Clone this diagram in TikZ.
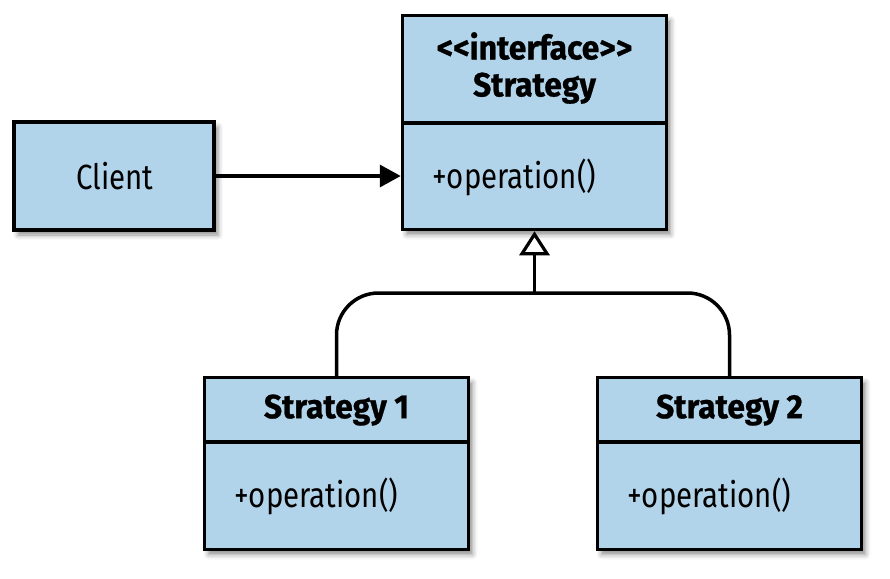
\documentclass[tikz,border=0pt]{standalone}
\usepackage{fontspec}
\setmainfont{Fira Sans}[FakeStretch=0.84,Ligatures=TeXOff,BoldFeatures={FakeStretch=0.95,FakeBold=0.8}]
\usetikzlibrary{arrows.meta,shadows.blur}
\definecolor{boxblue}{RGB}{178,212,234}
\tikzset{
  umlbox/.style={draw=black, line width=3.5pt, fill=boxblue, inner sep=0pt,
    blur shadow={shadow xshift=4pt, shadow yshift=-5pt, shadow blur radius=5pt, shadow opacity=45}},
  divline/.style={line width=3.5pt},
  optext/.style={anchor=west, inner sep=0pt, font=\fontsize{35}{40}\selectfont},
  titletext/.style={inner sep=0pt, align=center, font=\fontsize{33.5}{37}\selectfont\bfseries},
  conn/.style={line width=3.5pt},
}
\begin{document}
\begin{tikzpicture}[x=1pt,y=-1pt]
\useasboundingbox (0,0) rectangle (890,578);
% boxes
\node[umlbox, minimum width=200pt, minimum height=108pt] (client) at (114,176) {};
\node[umlbox, minimum width=264pt, minimum height=214pt] (strategy) at (534.5,122.5) {};
\node[umlbox, minimum width=264pt, minimum height=172pt] (s1) at (336.5,463.5) {};
\node[umlbox, minimum width=264pt, minimum height=172pt] (s2) at (729.5,463.5) {};
% dividers
\coordinate (d0) at (0,123);
\coordinate (d1) at (0,442);
\draw[divline] (strategy.west |- d0) -- (strategy.east |- d0);
\draw[divline] (s1.west |- d1) -- (s1.east |- d1);
\draw[divline] (s2.west |- d1) -- (s2.east |- d1);
% texts
\node[inner sep=0pt, font=\fontsize{35}{40}\selectfont] (clienttxt) at (115,176) {Client};
\node[titletext] (stitle) at (534.5,68) {<<interface>>\\Strategy};
\node[optext] (sop) at (432,177) {+operation()};
\node[titletext] (s1title) at (336.5,410) {Strategy 1};
\node[optext] (s1op) at (234,496) {+operation()};
\node[titletext] (s2title) at (729.5,410) {Strategy 2};
\node[optext] (s2op) at (627,496) {+operation()};
% connectors
\draw[conn, -{Triangle[length=21pt,width=22pt]}] (client.east) -- (client.east -| strategy.west);
\coordinate (junction) at (534.5,293);
\draw[conn, rounded corners=42pt] (s1.north) |- (junction) -| (s2.north);
\draw[conn, -{Triangle[open, fill=white, length=24pt, width=30pt, line width=3.2pt]}] (junction) -- (strategy.south);
\end{tikzpicture}
\end{document}
